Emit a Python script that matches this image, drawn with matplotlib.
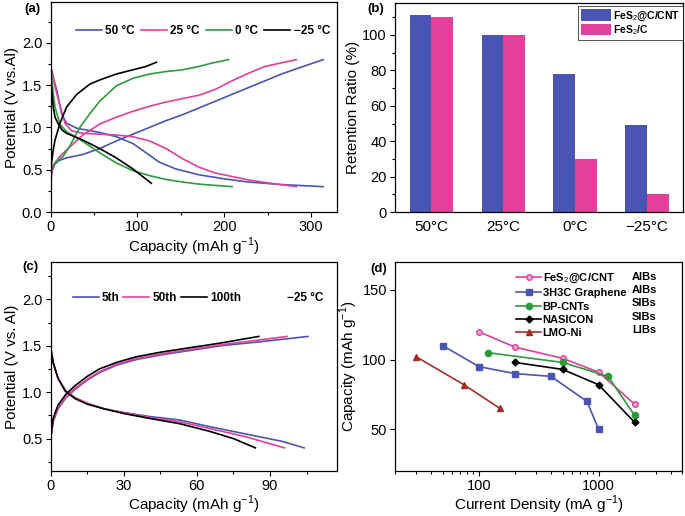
import numpy as np
import matplotlib
matplotlib.use('Agg')
import matplotlib.pyplot as plt
from matplotlib.ticker import MultipleLocator

plt.rcParams['font.family'] = ['Liberation Sans', 'DejaVu Sans']
plt.rcParams['mathtext.fontset'] = 'custom'
plt.rcParams['mathtext.rm'] = 'Liberation Sans'
plt.rcParams['mathtext.bf'] = 'Liberation Sans:bold'

BLUE = '#4a55b3'
PINK = '#e2409b'
GREEN = '#2f9a3c'
BROWN = '#a33028'

# ---- (a) charge/discharge at different temperatures
a_labels = ['50 °C', '25 °C', '0 °C', '\u221225 °C']
a_colors = [BLUE, PINK, GREEN, 'black']

a50_dis_x = [0.5, 4, 7, 12.6, 18.3, 30, 56.5, 75.6, 94.7, 110, 125, 144, 171, 201.5, 228, 266, 314]
a50_dis_y = [1.71, 1.55, 1.44, 1.16, 1.05, 0.99, 0.94, 0.89, 0.81, 0.70, 0.59, 0.51, 0.44, 0.39, 0.355, 0.325, 0.30]
a50_chg_x = [0, 2, 5, 10, 18, 37, 56.5, 75.6, 94.7, 114, 133, 152, 171, 190, 209, 228, 247, 266, 285.5, 314]
a50_chg_y = [0.40, 0.50, 0.57, 0.61, 0.64, 0.68, 0.75, 0.84, 0.92, 1.0, 1.08, 1.15, 1.23, 1.31, 1.39, 1.47, 1.55, 1.63, 1.70, 1.80]

a25_dis_x = [0.5, 5, 9, 16.4, 24, 37, 56.5, 75.6, 94.7, 114, 133, 152, 171, 190, 209, 228, 247, 283]
a25_dis_y = [1.67, 1.48, 1.32, 1.05, 0.96, 0.93, 0.92, 0.91, 0.89, 0.84, 0.75, 0.63, 0.53, 0.46, 0.42, 0.38, 0.35, 0.30]
a25_chg_x = [0, 2, 5, 10, 18, 37, 56.5, 75.6, 94.7, 114, 133, 152, 171, 190, 209, 228, 247, 283]
a25_chg_y = [0.36, 0.50, 0.58, 0.65, 0.73, 0.91, 1.04, 1.12, 1.19, 1.25, 1.30, 1.34, 1.38, 1.45, 1.55, 1.64, 1.72, 1.80]

a0_dis_x = [0.3, 3, 5, 10.7, 18, 30, 45, 56.5, 75.6, 94.7, 114, 133, 152, 171, 209]
a0_dis_y = [1.67, 1.40, 1.24, 1.04, 0.95, 0.88, 0.78, 0.70, 0.58, 0.49, 0.43, 0.385, 0.355, 0.33, 0.30]
a0_chg_x = [0, 2, 5, 10, 14.5, 22, 33.6, 45, 56.5, 75.6, 94.7, 114, 133, 152, 171, 186, 205]
a0_chg_y = [0.46, 0.54, 0.58, 0.62, 0.66, 0.78, 1.0, 1.16, 1.31, 1.49, 1.58, 1.63, 1.66, 1.68, 1.72, 1.76, 1.80]

am25_dis_x = [0.3, 3, 5, 8.8, 13, 18.3, 37, 56.5, 75.6, 94.7, 106, 116]
am25_dis_y = [1.56, 1.24, 1.12, 1.04, 0.97, 0.93, 0.85, 0.75, 0.64, 0.51, 0.42, 0.34]
am25_chg_x = [0, 1, 3, 5, 10.7, 18.3, 30, 45, 56.5, 75.6, 94.7, 110, 122]
am25_chg_y = [0.42, 0.58, 0.74, 0.85, 1.05, 1.24, 1.39, 1.51, 1.56, 1.63, 1.68, 1.72, 1.77]

# ---- (b) retention ratio
b_cats = ['50°C', '25°C', '0°C', '\u221225°C']
b_cnt = [111, 100, 78, 49]
b_c = [110, 100, 30, 10]

# ---- (c) cycling at -25 C
c_labels = ['5th', '50th', '100th']
c5_dis_x = [0, 1, 3, 6, 10, 15, 22, 30, 40, 53, 65, 80, 95, 104]
c5_dis_y = [1.48, 1.32, 1.15, 1.02, 0.94, 0.88, 0.82, 0.78, 0.74, 0.70, 0.63, 0.55, 0.47, 0.40]
c5_chg_x = [0, 1, 3, 6, 10, 15, 20, 27, 35, 45, 55, 70, 85, 105.6]
c5_chg_y = [0.5, 0.68, 0.82, 0.93, 1.03, 1.13, 1.21, 1.29, 1.35, 1.40, 1.44, 1.50, 1.54, 1.60]
c50_dis_x = [0, 1, 3, 6, 10, 15, 22, 30, 40, 53, 65, 80, 96]
c50_dis_y = [1.48, 1.32, 1.15, 1.02, 0.94, 0.88, 0.82, 0.78, 0.73, 0.68, 0.61, 0.52, 0.40]
c50_chg_x = [0, 1, 3, 6, 10, 15, 20, 27, 35, 45, 55, 70, 85, 97]
c50_chg_y = [0.5, 0.69, 0.83, 0.94, 1.04, 1.14, 1.22, 1.30, 1.36, 1.41, 1.45, 1.51, 1.56, 1.60]
c100_dis_x = [0, 1, 3, 6, 10, 15, 22, 30, 40, 53, 65, 75, 84]
c100_dis_y = [1.48, 1.32, 1.15, 1.01, 0.93, 0.87, 0.82, 0.77, 0.72, 0.66, 0.58, 0.50, 0.40]
c100_chg_x = [0, 1, 3, 6, 10, 15, 20, 27, 35, 45, 55, 70, 85.4]
c100_chg_y = [0.5, 0.72, 0.86, 0.97, 1.07, 1.17, 1.25, 1.32, 1.38, 1.43, 1.47, 1.53, 1.60]

# ---- (d) rate comparison
d_labels = ['FeS$_2$@C/CNT', '3H3C Graphene', 'BP-CNTs', 'NASICON', 'LMO-Ni']
d_types = ['AIBs', 'AIBs', 'SIBs', 'SIBs', 'LIBs']
fes_x = [100, 200, 500, 1000, 2000]
fes_y = [120, 109, 101, 91, 68]
gra_x = [50, 100, 200, 400, 800, 1000]
gra_y = [110, 95, 90, 88, 70, 50]
bp_x = [120, 500, 1200, 2000]
bp_y = [105, 98, 88, 60]
nas_x = [200, 500, 1000, 2000]
nas_y = [98, 93, 82, 55]
lmo_x = [30, 75, 150]
lmo_y = [102, 82, 65]

fig = plt.figure(figsize=(6.85, 5.16), dpi=100)
axa = fig.add_axes([0.074, 0.589, 0.418, 0.407])
axb = fig.add_axes([0.577, 0.589, 0.420, 0.405])
axc = fig.add_axes([0.074, 0.087, 0.418, 0.405])
axd = fig.add_axes([0.577, 0.087, 0.419, 0.405])

def style(ax):
    for s in ax.spines.values():
        s.set_linewidth(0.9)
    ax.tick_params(which='both', direction='out', top=False, right=False,
                   labelsize=10.5, width=0.8)
    ax.tick_params(which='major', length=3.5, pad=2.5)
    ax.tick_params(which='minor', length=2)

lw = 1.2
# (a)
curves_a = [(a50_dis_x, a50_dis_y, a50_chg_x, a50_chg_y),
            (a25_dis_x, a25_dis_y, a25_chg_x, a25_chg_y),
            (a0_dis_x, a0_dis_y, a0_chg_x, a0_chg_y),
            (am25_dis_x, am25_dis_y, am25_chg_x, am25_chg_y)]
for (dx, dy, cx, cy), lab, col in zip(curves_a, a_labels, a_colors):
    axa.plot(dx, dy, color=col, lw=lw, label=lab)
    axa.plot(cx, cy, color=col, lw=lw)
axa.set_xlim(0, 330)
axa.set_ylim(0, 2.48)
axa.xaxis.set_major_locator(MultipleLocator(100))
axa.xaxis.set_minor_locator(MultipleLocator(50))
axa.yaxis.set_major_locator(MultipleLocator(0.5))
axa.yaxis.set_minor_locator(MultipleLocator(0.25))
axa.set_xlabel('Capacity (mAh g$^{-1}$)', fontsize=11, labelpad=1)
axa.set_ylabel('Potential (V vs.Al)', fontsize=11, labelpad=2)
style(axa)
axa.legend(loc='center right', bbox_to_anchor=(1.0, 0.86), ncol=4, frameon=False,
           prop={'weight': 'bold', 'size': 8.5}, handlelength=2.2,
           handletextpad=0.3, columnspacing=0.5, borderaxespad=0.2)

# (b)
xb = np.arange(len(b_cats))
w = 0.3
axb.bar(xb - w / 2, b_cnt, w, color=BLUE, label='FeS$_2$@C/CNT')
axb.bar(xb + w / 2, b_c, w, color=PINK, label='FeS$_2$/C')
axb.set_xlim(-0.5, 3.5)
axb.set_ylim(0, 118)
axb.set_xticks(xb)
axb.set_xticklabels(b_cats)
axb.yaxis.set_major_locator(MultipleLocator(20))
axb.yaxis.set_minor_locator(MultipleLocator(10))
axb.set_ylabel('Retention Ratio (%)', fontsize=11, labelpad=2)
style(axb)
axb.tick_params(axis='x', length=0, pad=6, labelsize=11)
leg = axb.legend(loc='upper right', bbox_to_anchor=(1.0, 0.985), frameon=True,
                 fancybox=False, edgecolor='black', borderaxespad=0,
                 prop={'weight': 'bold', 'size': 7.5}, handlelength=2.8,
                 handleheight=1.3, handletextpad=0.2, labelspacing=0.05,
                 borderpad=0.3)
leg.get_frame().set_linewidth(0.6)

# (c)
curves_c = [(c5_dis_x, c5_dis_y, c5_chg_x, c5_chg_y, BLUE),
            (c50_dis_x, c50_dis_y, c50_chg_x, c50_chg_y, PINK),
            (c100_dis_x, c100_dis_y, c100_chg_x, c100_chg_y, 'black')]
for (dx, dy, cx, cy, col), lab in zip(curves_c, c_labels):
    axc.plot(dx, dy, color=col, lw=lw, label=lab)
    axc.plot(cx, cy, color=col, lw=lw)
axc.set_xlim(0, 117.5)
axc.set_ylim(0.15, 2.4)
axc.xaxis.set_major_locator(MultipleLocator(30))
axc.xaxis.set_minor_locator(MultipleLocator(15))
axc.yaxis.set_major_locator(MultipleLocator(0.5))
axc.yaxis.set_minor_locator(MultipleLocator(0.25))
axc.set_xlabel('Capacity (mAh g$^{-1}$)', fontsize=11, labelpad=0)
axc.set_ylabel('Potential (V vs. Al)', fontsize=11, labelpad=2)
style(axc)
axc.legend(loc='center left', bbox_to_anchor=(0.06, 0.83), ncol=3, frameon=False,
           prop={'weight': 'bold', 'size': 8.5}, handlelength=2.2,
           handletextpad=0.25, columnspacing=0.35, borderaxespad=0)
axc.text(0.825, 0.83, '\u221225 °C', transform=axc.transAxes, fontsize=8.5,
         fontweight='bold', va='center')

# (d)
ms = 4
axd.plot(fes_x, fes_y, color=PINK, marker='o', ms=ms, mfc='#f6a8d0', mec=PINK,
         lw=lw, label=d_labels[0])
axd.plot(gra_x, gra_y, color=BLUE, marker='s', ms=ms, lw=lw, label=d_labels[1])
axd.plot(bp_x, bp_y, color=GREEN, marker='o', ms=ms + 0.5, lw=lw, label=d_labels[2])
axd.plot(nas_x, nas_y, color='black', marker='D', ms=ms - 0.5, lw=lw, label=d_labels[3])
axd.plot(lmo_x, lmo_y, color=BROWN, marker='^', ms=ms + 0.5, lw=lw, label=d_labels[4])
axd.set_xscale('log')
axd.set_xlim(20, 5000)
axd.set_ylim(20, 170)
axd.set_xticks([100, 1000])
axd.set_xticklabels(['100', '1000'])
axd.yaxis.set_major_locator(MultipleLocator(50))
axd.yaxis.set_minor_locator(MultipleLocator(25))
axd.set_xlabel('Current Density (mA g$^{-1}$)', fontsize=11, labelpad=0)
axd.set_ylabel('Capacity (mAh g$^{-1}$)', fontsize=11, labelpad=2)
style(axd)
axd.tick_params(axis='y', which='minor', length=0)
leg1 = axd.legend(loc='upper left', bbox_to_anchor=(0.405, 0.975), frameon=False,
                  prop={'weight': 'bold', 'size': 8}, handlelength=2.3,
                  handletextpad=0.1, labelspacing=0.3, borderaxespad=0)
axd.add_artist(leg1)
blank = [plt.Line2D([], [], lw=0) for _ in d_types]
axd.legend(blank, d_types, loc='upper left', bbox_to_anchor=(0.81, 0.975),
           frameon=False, prop={'weight': 'bold', 'size': 8}, handlelength=0,
           handletextpad=0, labelspacing=0.3, borderaxespad=0)

# panel letters sit outside the axes, above the y tick labels
for lab, x, y in [('(a)', 0.036, 0.983), ('(b)', 0.536, 0.983),
                  ('(c)', 0.032, 0.483), ('(d)', 0.540, 0.478)]:
    fig.text(x, y, lab, fontsize=9.5, fontweight='bold', va='center')

fig.savefig('out.png', dpi=100)
